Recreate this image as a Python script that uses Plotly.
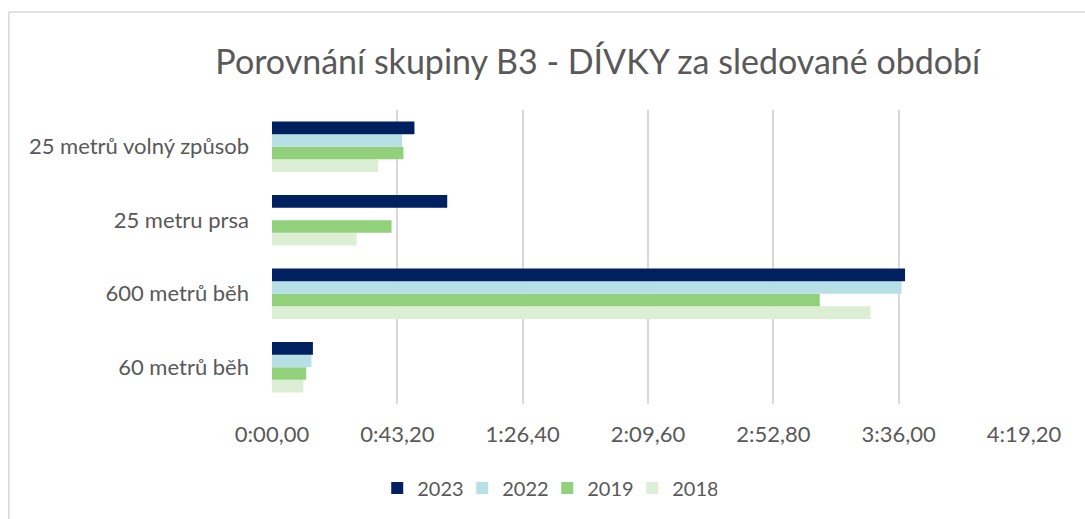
import plotly.graph_objects as go

categories = ["60 metrů běh", "600 metrů běh", "25 metru prsa", "25 metrů volný způsob"]
years = ["2018", "2019", "2022", "2023"]
vals_2018 = [10.8, 206.3, 29.2, 36.6]
vals_2019 = [11.8, 188.8, 41.2, 45.3]
vals_2022 = [13.6, 217.0, None, 44.8]
vals_2023 = [14.1, 218.2, 60.4, 49.1]
colors = ["#DCEFD5", "#92D07C", "#B7DFE6", "#002060"]
tick_vals = [0, 43.2, 86.4, 129.6, 172.8, 216.0, 259.2]


def fmt(s):
    m = int(s // 60)
    rest = s - m * 60
    return f"{m}:{rest:05.2f}".replace(".", ",")


tick_text = [fmt(v) for v in tick_vals]

FONT = "Lato"
fig = go.Figure()
for y, v, c in zip(years, [vals_2018, vals_2019, vals_2022, vals_2023], colors):
    fig.add_trace(go.Bar(y=categories, x=v, name=y, orientation="h",
                         marker=dict(color=c, line=dict(width=0))))

fig.update_layout(
    width=1085, height=519,
    margin=dict(l=271.5, r=61, t=110, b=115, autoexpand=False),
    paper_bgcolor="white", plot_bgcolor="white",
    barmode="group", bargap=0.315, bargroupgap=0,
    font=dict(family=FONT, color="#595959"),
    title=dict(text="Porovnání skupiny B3 - DÍVKY za sledované období",
               x=0.551, xanchor="center", y=0.881, yanchor="middle",
               font=dict(size=34, family=FONT, color="#595959")),
    xaxis=dict(range=[0, 259.2], tickvals=tick_vals, ticktext=tick_text,
               showgrid=True, gridcolor="#D9D9D9", gridwidth=2, zeroline=False,
               showline=False, ticks="", tickfont=dict(size=22, color="#595959"),
               ticklabelstandoff=15),
    yaxis=dict(categoryorder="array", categoryarray=categories, showgrid=False,
               zeroline=False, showline=False, ticks="",
               tickfont=dict(size=22, color="#595959"), ticklabelstandoff=22),
    legend=dict(orientation="h", traceorder="reversed", x=0.366, xanchor="center",
                y=-0.286, yanchor="middle", font=dict(size=20, color="#595959"),
                itemwidth=30, entrywidth=40, entrywidthmode="pixels"),
    showlegend=True,
)

# chart border (partially visible: left and top edges)
fig.add_shape(type="line", xref="paper", yref="paper", x0=-0.350, x1=1.1,
              y0=1.333, y1=1.333, line=dict(color="#D9D9D9", width=1.5))
fig.add_shape(type="line", xref="paper", yref="paper", x0=-0.350, x1=-0.350,
              y0=1.333, y1=-0.45, line=dict(color="#D9D9D9", width=1.5))

fig.write_html("out.html", post_script="document.body.style.margin='0';",
               config={"displayModeBar": False})
